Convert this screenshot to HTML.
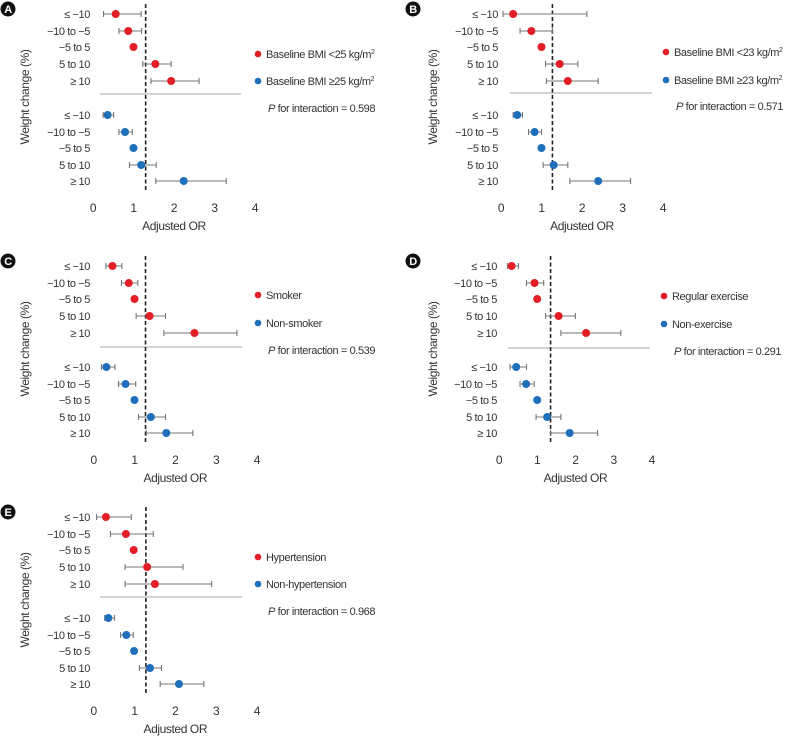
<!DOCTYPE html>
<html><head><meta charset="utf-8"><style>
html,body{margin:0;padding:0;background:#fff;}
svg{display:block;font-family:"Liberation Sans",sans-serif;}
text{font-size:11px;fill:#333;letter-spacing:-0.4px;}
</style></head><body>
<svg id="fig" width="787" height="736" viewBox="0 0 787 736" xmlns="http://www.w3.org/2000/svg"></svg>
<script>
const rowLabels = ["≤ −10","−10 to −5","−5 to 5","5 to 10","≥ 10"];
const tickLabels = [0,1,2,3,4];
// Panel A
const aRedOR=[0.56,0.87,1.0,1.54,1.93], aRedLo=[0.26,0.64,1.0,1.23,1.43], aRedHi=[1.19,1.2,1.0,1.93,2.62];
const aBlueOR=[0.36,0.79,1.0,1.19,2.24], aBlueLo=[0.25,0.64,1.0,0.9,1.55], aBlueHi=[0.51,0.97,1.0,1.56,3.29];
// Panel B
const bRedOR=[0.3,0.75,1.0,1.45,1.65], bRedLo=[0.05,0.47,1.0,1.1,1.12], bRedHi=[2.12,1.27,1.0,1.9,2.4];
const bBlueOR=[0.4,0.83,1.0,1.3,2.4], bBlueLo=[0.3,0.68,1.0,1.04,1.7], bBlueHi=[0.53,1.0,1.0,1.65,3.2];
// Panel C
const cRedOR=[0.46,0.86,1.0,1.37,2.47], cRedLo=[0.3,0.68,1.0,1.04,1.72], cRedHi=[0.69,1.08,1.0,1.76,3.51];
const cBlueOR=[0.31,0.78,1.0,1.4,1.78], cBlueLo=[0.19,0.61,1.0,1.1,1.29], cBlueHi=[0.52,1.03,1.0,1.76,2.43];
// Panel D
const dRedOR=[0.33,0.93,1.0,1.56,2.28], dRedLo=[0.22,0.72,1.0,1.22,1.62], dRedHi=[0.51,1.17,1.0,2.0,3.19];
const dBlueOR=[0.45,0.71,1.0,1.26,1.85], dBlueLo=[0.29,0.55,1.0,0.97,1.35], dBlueHi=[0.72,0.92,1.0,1.62,2.58];
// Panel E
const eRedOR=[0.3,0.79,0.98,1.31,1.5], eRedLo=[0.07,0.41,0.98,0.77,0.77], eRedHi=[0.92,1.46,0.98,2.19,2.89];
const eBlueOR=[0.36,0.8,0.99,1.38,2.09], eBlueLo=[0.27,0.66,0.99,1.12,1.63], eBlueHi=[0.51,0.97,0.99,1.66,2.7];
const refLines=[1.3,1.27,1.27,1.35,1.28];
const pValues=["0.598","0.571","0.539","0.291","0.968"];

const NS="http://www.w3.org/2000/svg";
const svg=document.getElementById('fig');
function mk(tag,attrs,parent,txt){const e=document.createElementNS(NS,tag);for(const k in attrs)e.setAttribute(k,attrs[k]);if(txt!==undefined)e.textContent=txt;(parent||svg).appendChild(e);return e;}

const panels=[
 {id:'a',L:'A',ox:0,oy:0,x0:93,unit:40.5,lab:90,sepA:100,sepB:241,sepY:94,lgX:258,lgY:[54,81,108],legend:["Baseline BMI <25 kg/m","Baseline BMI ≥25 kg/m"],sup:true,red:[aRedOR,aRedLo,aRedHi],blue:[aBlueOR,aBlueLo,aBlueHi],ytX:25},
 {id:'b',L:'B',ox:0,oy:0,x0:501,unit:40.5,lab:498,sepA:510,sepB:652,sepY:93,lgX:666,lgY:[52,80,106],legend:["Baseline BMI <23 kg/m","Baseline BMI ≥23 kg/m"],sup:true,red:[bRedOR,bRedLo,bRedHi],blue:[bBlueOR,bBlueLo,bBlueHi],ytX:433},
 {id:'c',L:'C',ox:0,oy:252,x0:93.7,unit:40.8,lab:90,sepA:100,sepB:242,sepY:95,lgX:258,lgY:[43,71,98],legend:["Smoker","Non-smoker"],sup:false,red:[cRedOR,cRedLo,cRedHi],blue:[cBlueOR,cBlueLo,cBlueHi],ytX:25},
 {id:'d',L:'D',ox:0,oy:252,x0:499,unit:38.2,lab:497,sepA:508,sepB:650,sepY:96,lgX:664,lgY:[44,72,99],legend:["Regular exercise","Non-exercise"],sup:false,red:[dRedOR,dRedLo,dRedHi],blue:[dBlueOR,dBlueLo,dBlueHi],ytX:433},
 {id:'e',L:'E',ox:0,oy:503,x0:93.7,unit:40.8,lab:90,sepA:100,sepB:242,sepY:94,lgX:258,lgY:[54,81,108],legend:["Hypertension","Non-hypertension"],sup:false,red:[eRedOR,eRedLo,eRedHi],blue:[eBlueOR,eBlueLo,eBlueHi],ytX:25}
];
const rowYs=[14,31,47,64,81,115,132,148,165,181];
panels.forEach((p,pi)=>{
  const g=mk('g',{});
  
  
  const X=v=>p.x0+v*p.unit, Y=y=>p.oy+y;
  const bx=(p.L==='A'||p.L==='C'||p.L==='E')?8:413;
  const badge=mk('circle',{cx:bx,cy:Y(9),r:7.5,fill:'#111'},g);
  
  
  mk('text',{x:bx,y:Y(13),'text-anchor':'middle',style:'fill:#fff;font-weight:bold;font-size:11px'},g,p.L);
  const yt=mk('text',{x:0,y:0,'text-anchor':'middle',transform:`translate(${p.ytX+4},${Y(97)}) rotate(-90)`,style:'font-size:12px'},g,'Weight change (%)');
  
  
  const sep=mk('line',{x1:p.sepA,x2:p.sepB,y1:Y(p.sepY),y2:Y(p.sepY),stroke:'#aaa','stroke-width':1},g);
  
  
  const rl=mk('line',{x1:X(refLines[pi]),x2:X(refLines[pi]),y1:Y(4),y2:Y(190),stroke:'#222','stroke-width':1.6,'stroke-dasharray':'4,2.5'},g);
  
  
  tickLabels.forEach(t=>{
    const tl=mk('text',{x:X(t),y:Y(212),'text-anchor':'middle',style:'font-size:12px'},g,String(t));
    
    
  });
  const xt=mk('text',{x:X(2),y:Y(230),'text-anchor':'middle',style:'font-size:12px'},g,'Adjusted OR');
  
  
  [[p.red,'#e41e26','red'],[p.blue,'#1f6fba','blue']].forEach(([ser,col,nm],si)=>{
    ser[0].forEach((v,i)=>{
      const yy=Y(rowYs[si*5+i]);
      const lb=mk('text',{x:p.lab,y:yy+4,'text-anchor':'end'},g,rowLabels[i]);
      
      
      const lo=ser[1][i],hi=ser[2][i];
      if(hi-lo>0.01){
        const w=mk('path',{d:`M${X(lo)},${yy}H${X(hi)}M${X(lo)},${yy-3}V${yy+3}M${X(hi)},${yy-3}V${yy+3}`,stroke:'#777','stroke-width':1.1,fill:'none'},g);
        
        
      }
      const c=mk('circle',{cx:X(v),cy:yy,r:4,fill:col},g);
      
      
    });
    const ld=mk('circle',{cx:p.lgX,cy:Y(p.lgY[si]),r:3.3,fill:col},g);
    
    
    const lt=mk('text',{x:p.lgX+8,y:Y(p.lgY[si])+4,style:'font-size:11px'},g,p.legend[si]);
    
    
    if(p.sup){mk('tspan',{dy:-4,style:'font-size:7px'},lt,'2');}
  });
  const pt=mk('text',{x:p.lgX+10,y:Y(p.lgY[2])+4,style:'font-size:11px'},g);
  
  
  mk('tspan',{style:'font-style:italic'},pt,'P');
  mk('tspan',{},pt,' for interaction = '+pValues[pi]);
});
</script>
</body></html>
